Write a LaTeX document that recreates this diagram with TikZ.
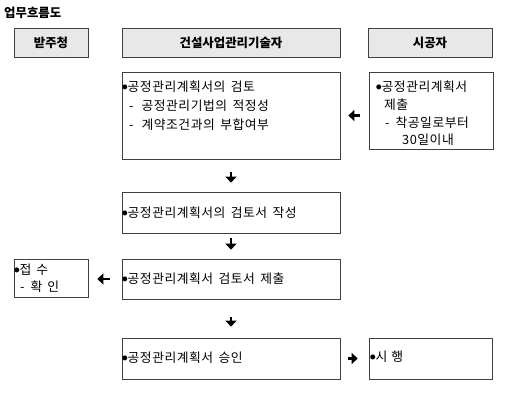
\documentclass[tikz,border=0pt]{standalone}
\usepackage{fontspec}
\setmainfont{Noto Sans CJK KR}[WordSpace=1.5]
\newfontfamily\bodyfont{Noto Sans CJK KR}[LetterSpace=4, WordSpace=1.6]
\newcommand{\bul}{\raisebox{2.2pt}{\fontsize{5.5}{5}\selectfont ●}}
\usetikzlibrary{arrows.meta,shadows}
\begin{document}
\begin{tikzpicture}[x=1pt,y=-1pt,
  every node/.style={font=\bodyfont\fontsize{12.8}{19}\selectfont},
  box/.style={draw=black!75, line width=0.7pt, fill=white, inner sep=0pt,
    drop shadow={shadow xshift=0.9pt, shadow yshift=-0.9pt, fill=black!70, opacity=1}},
  head/.style={box, fill=black!9, font=\fontsize{12.4}{14}\selectfont\bfseries},
  txt/.style={inner sep=0pt, anchor=west, align=left},
  arr/.style={line width=2.4pt, -{Triangle[length=6pt,width=11pt]}}]
\useasboundingbox (0,0) rectangle (519,409);
% title
\node[anchor=west, inner sep=0pt, font=\fontsize{12.4}{14}\selectfont\bfseries] (title) at (4,13) {업무흐름도};
% headers
\node[head, minimum width=74pt, minimum height=29pt] (h1) at (51,42.5) {받주청};
\node[head, minimum width=218pt, minimum height=29pt] (h2) at (231,42.5) {건설사업관리기술자};
\node[head, minimum width=124pt, minimum height=29pt] (h3) at (430,42.5) {시공자};
% boxes
\node[box, minimum width=218pt, minimum height=87pt] (b1) at (231,115.5) {};
\node[box, minimum width=124pt, minimum height=77pt] (sg) at (431,110.5) {};
\node[box, minimum width=218pt, minimum height=41pt] (b2) at (231,212.5) {};
\node[box, minimum width=218pt, minimum height=40pt] (b3) at (231,279) {};
\node[box, minimum width=74pt, minimum height=38pt] (jp) at (51,278) {};
\node[box, minimum width=218pt, minimum height=41pt] (b4) at (231,358.5) {};
\node[box, minimum width=123pt, minimum height=41pt] (sh) at (430.5,358.5) {};
% texts
\node[txt, anchor=north west] (t1) at (122,81) {\bul 공정관리계획서의 검토\\
\hspace*{7pt}-\hspace{8pt}공정관리기법의 적정성\\
\hspace*{7pt}-\hspace{8pt}계약조건과의 부합여부};
\node[txt, anchor=north west, font=\bodyfont\fontsize{12.8}{17.6}\selectfont] (ts) at (376,81) {\bul 공정관리계획서\\
\hspace*{8pt}제출\\
\hspace*{9pt}-\hspace{6pt}착공일로부터\\
\hspace*{26pt}30일이내};
\node[txt] (t2) at (122,212.5) {\bul 공정관리계획서의 검토서 작성};
\node[txt] (t3) at (122,279) {\bul 공정관리계획서 검토서 제출};
\node[txt, anchor=north west, font=\bodyfont\fontsize{12.8}{16.5}\selectfont] (tj) at (14,264) {\bul 접\hspace{5pt}수\\
\hspace*{6pt}-\hspace{6pt}확\hspace{5pt}인};
\node[txt] (t4) at (122,358) {\bul 공정관리계획서 승인};
\node[txt] (t5) at (370,357) {\bul 시\hspace{4pt}행};
% arrows
\draw[arr, shorten <=13pt, shorten >=9pt] (b1.south) -- (b2.north);
\draw[arr, shorten <=5pt, shorten >=9pt] (b2.south) -- (b3.north);
\draw[arr, shorten <=18pt, shorten >=11pt] (b3.south) -- (b4.north);
\draw[arr, shorten <=9pt, shorten >=8pt] (sg.west |- b1.east) -- (b1.east);
\draw[arr, shorten <=12pt, shorten >=9pt] (b3.west) -- (jp.east |- b3.west);
\draw[arr, shorten <=8pt, shorten >=11pt] (b4.east) -- (sh.west);
\end{tikzpicture}
\end{document}
